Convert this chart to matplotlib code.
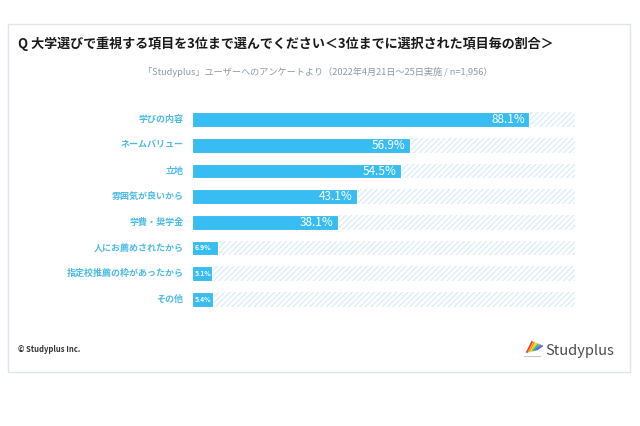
import matplotlib
matplotlib.use("Agg")
import matplotlib.pyplot as plt
from matplotlib.patches import Rectangle
from matplotlib.lines import Line2D

plt.rcParams['font.family'] = ['Noto Sans CJK JP', 'DejaVu Sans']

categories = ["学びの内容", "ネームバリュー", "立地", "雰囲気が良いから", "学費・奨学金",
              "人にお薦めされたから", "指定校推薦の枠があったから", "その他"]
values = [88.1, 56.9, 54.5, 43.1, 38.1, 6.9, 5.1, 5.4]
value_labels = ["88.1%", "56.9%", "54.5%", "43.1%", "38.1%", "6.9%", "5.1%", "5.4%"]
full = [100] * len(categories)

title = "Q 大学選びで重視する項目を3位まで選んでください＜3位までに選択された項目毎の割合＞"
subtitle = "「Studyplus」ユーザーへのアンケートより（2022年4月21日～25日実施 / n=1,956）"

W, H = 640, 426
fig = plt.figure(figsize=(W / 100, H / 100), dpi=100)
fig.patch.set_facecolor("white")

def fx(px):
    return px / W

def fy(py):
    return 1 - py / H

# card border
fig.patches.append(Rectangle((fx(8), fy(372)), fx(622), (372 - 24) / H,
                             transform=fig.transFigure, facecolor="white",
                             edgecolor="#dfe5ec", linewidth=1.0, zorder=-5))

bar_color = "#38bdf2"
label_color = "#4cbbe6"
hatch_color = "#d3ecf6"

plt.rcParams['hatch.linewidth'] = 0.8
ax = fig.add_axes([fx(192), fy(312), fx(383), 205 / H])
ax.set_facecolor("none")
ypos = list(range(len(categories)))
bh = 0.58
ax.barh(ypos, full, height=bh, color="white", edgecolor=hatch_color,
        hatch="//////", linewidth=0, zorder=1)
ax.barh(ypos, values, height=bh, color=bar_color, edgecolor="white",
        linewidth=0.8, zorder=2)
ax.set_xlim(0, 100)
ax.set_ylim(len(categories) - 0.5, -0.5)
ax.axis("off")

for y, v, lab in zip(ypos, values, value_labels):
    if v > 20:
        ax.text(v - 1.2, y, lab, ha="right", va="center", color="white",
                fontsize=8.5, zorder=3)
    else:
        ax.text(0.8, y, lab, ha="left", va="center", color="white",
                fontsize=4.8, fontweight="bold", zorder=3)
    ax.text(-2.2, y, categories[y], ha="right", va="center", color=label_color,
            fontsize=6.5, fontweight="bold", clip_on=False)

fig.text(fx(18), fy(44), title, ha="left", va="center", fontsize=9.4,
         fontweight="bold", color="#1a1a1a")
fig.text(fx(318), fy(72), subtitle, ha="center", va="center", fontsize=6.6,
         color="#8d99a4")

fig.text(fx(18), fy(350), "© Studyplus Inc.", ha="left", va="center",
         fontsize=5.5, color="#333333", fontweight="bold")
fig.text(fx(545), fy(351), "Studyplus", ha="left", va="center",
         fontsize=10.5, color="#4a4a4a")

# logo strokes
cols = ["#e83c3c", "#f39a1e", "#f5d21e", "#5fbf3f", "#2a9be0", "#7a5bc8"]
for i, c in enumerate(cols):
    x0 = 527 + i * 2.0
    fig.lines.append(Line2D([fx(x0), fx(x0 + 5)], [fy(352 - i * 0.5), fy(342 + i * 0.8)],
                            transform=fig.transFigure, color=c, linewidth=1.3))
fig.lines.append(Line2D([fx(524), fx(540)], [fy(356), fy(356)],
                        transform=fig.transFigure, color="#bbbbbb", linewidth=0.6))

fig.savefig("out.png", dpi=100, facecolor="white")
